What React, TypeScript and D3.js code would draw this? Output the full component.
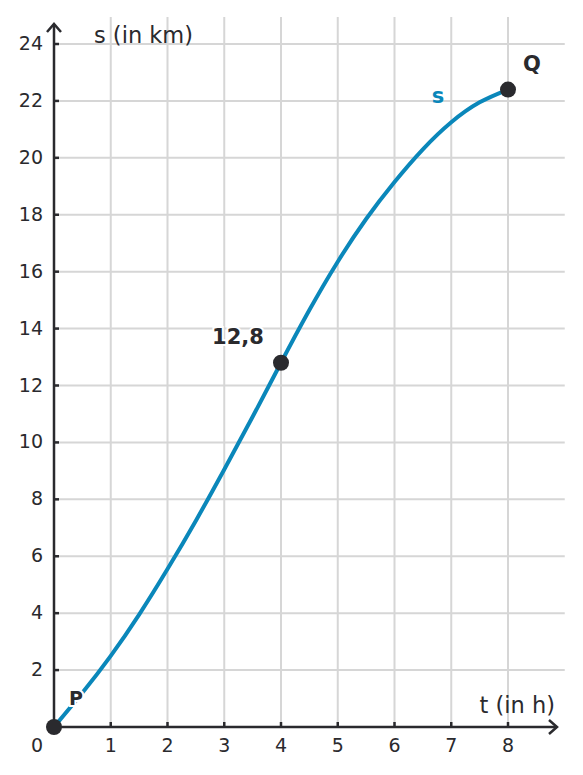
import { useEffect, useRef } from 'react'
import * as d3 from 'd3'

// time (h) and distance (km)
const tValues = [0, 0.5, 1, 1.5, 2, 2.5, 3, 3.5, 4, 4.5, 5, 5.5, 6, 6.5, 7, 7.5, 8]
const sValues = [0, 1.2, 2.5, 3.95, 5.55, 7.25, 9.05, 10.9, 12.8, 14.65, 16.35, 17.85, 19.15, 20.3, 21.25, 21.95, 22.4]

const xTicks = [1, 2, 3, 4, 5, 6, 7, 8]
const yTicks = [2, 4, 6, 8, 10, 12, 14, 16, 18, 20, 22, 24]

const marked = [
  { t: 0, s: 0, label: 'P' },
  { t: 4, s: 12.8, label: '12,8' },
  { t: 8, s: 22.4, label: 'Q' },
]

const BLUE = '#0a87ba'
const DARK = '#2a2a2e'
const GRID = '#d6d6d6'

const App: React.FC = () => {
  const svgRef = useRef<SVGSVGElement>(null)

  useEffect(() => {
    if (!svgRef.current) return
    const width = 583
    const height = 775
    const font = "'DejaVu Sans', sans-serif"

    const svg = d3.select(svgRef.current)
      .attr('width', width)
      .attr('height', height)
    svg.selectAll('*').remove()

    const x = d3.scaleLinear().domain([0, 8]).range([54, 508])
    const y = d3.scaleLinear().domain([0, 24]).range([727, 44])

    // grid
    svg.append('g')
      .selectAll('line')
      .data(xTicks)
      .enter().append('line')
      .attr('x1', d => x(d)).attr('x2', d => x(d))
      .attr('y1', y(0)).attr('y2', y(24.95))
      .style('stroke', GRID).style('stroke-width', 2)

    svg.append('g')
      .selectAll('line')
      .data(yTicks)
      .enter().append('line')
      .attr('x1', x(0)).attr('x2', x(9))
      .attr('y1', d => y(d)).attr('y2', d => y(d))
      .style('stroke', GRID).style('stroke-width', 2)

    // axes
    const axis = svg.append('g')
      .style('stroke', DARK).style('stroke-width', 2.5).style('fill', 'none')
    axis.append('line').attr('x1', x(0)).attr('x2', 557).attr('y1', y(0)).attr('y2', y(0))
    axis.append('line').attr('x1', x(0)).attr('x2', x(0)).attr('y1', y(0)).attr('y2', 24)
    axis.append('path')
      .attr('d', `M549,${y(0) - 7}L557,${y(0)}L549,${y(0) + 7}`)
    axis.append('path')
      .attr('d', `M${x(0) - 7},32L${x(0)},24L${x(0) + 7},32`)

    axis.selectAll('.xt')
      .data(xTicks)
      .enter().append('line')
      .attr('x1', d => x(d)).attr('x2', d => x(d))
      .attr('y1', y(0)).attr('y2', y(0) - 5)
    axis.selectAll('.yt')
      .data(yTicks)
      .enter().append('line')
      .attr('x1', x(0)).attr('x2', x(0) + 5)
      .attr('y1', d => y(d)).attr('y2', d => y(d))

    // tick labels
    svg.append('g')
      .selectAll('text')
      .data(xTicks)
      .enter().append('text')
      .attr('x', d => x(d))
      .attr('y', 752)
      .attr('text-anchor', 'middle')
      .style('font-family', font).style('font-size', '19px').style('fill', DARK)
      .text(d => d)
    svg.append('text')
      .attr('x', 37).attr('y', 752)
      .attr('text-anchor', 'middle')
      .style('font-family', font).style('font-size', '19px').style('fill', DARK)
      .text('0')
    svg.append('g')
      .selectAll('text')
      .data(yTicks)
      .enter().append('text')
      .attr('x', 43)
      .attr('y', d => y(d) + 6)
      .attr('text-anchor', 'end')
      .style('font-family', font).style('font-size', '19px').style('fill', DARK)
      .text(d => d)

    // axis titles
    svg.append('text')
      .attr('x', 94).attr('y', 43)
      .style('font-family', font).style('font-size', '22.5px').style('fill', DARK)
      .text('s (in km)')
    svg.append('text')
      .attr('x', 555).attr('y', 713)
      .attr('text-anchor', 'end')
      .style('font-family', font).style('font-size', '22.5px').style('fill', DARK)
      .text('t (in h)')

    // curve
    const pts: [number, number][] = tValues.map((t, i) => [t, sValues[i]])
    const line = d3.line<[number, number]>()
      .x(d => x(d[0]))
      .y(d => y(d[1]))
      .curve(d3.curveNatural)
    svg.append('path')
      .datum(pts)
      .attr('d', line)
      .style('fill', 'none')
      .style('stroke', BLUE)
      .style('stroke-width', 4)

    svg.append('text')
      .attr('x', 438).attr('y', 103)
      .attr('text-anchor', 'middle')
      .style('font-family', font).style('font-size', '21px').style('font-weight', 'bold')
      .style('fill', BLUE)
      .text('s')

    // marked points
    svg.append('g')
      .selectAll('circle')
      .data(marked)
      .enter().append('circle')
      .attr('cx', d => x(d.t))
      .attr('cy', d => y(d.s))
      .attr('r', 8)
      .style('fill', DARK)

    const labelPos: Record<string, [number, number, number]> = {
      P: [76, 705, 19],
      '12,8': [238, 344, 21],
      Q: [532, 71, 21],
    }
    svg.append('g')
      .selectAll('text')
      .data(marked)
      .enter().append('text')
      .attr('x', d => labelPos[d.label][0])
      .attr('y', d => labelPos[d.label][1])
      .attr('text-anchor', 'middle')
      .style('font-family', font)
      .style('font-size', d => `${labelPos[d.label][2]}px`)
      .style('font-weight', 'bold')
      .style('fill', DARK)
      .style('stroke', '#fff').style('stroke-width', 4).style('paint-order', 'stroke')
      .text(d => d.label)
  }, [])

  return <svg ref={svgRef} style={{ position: 'absolute', left: 0, top: 0 }}></svg>
}

export default App
